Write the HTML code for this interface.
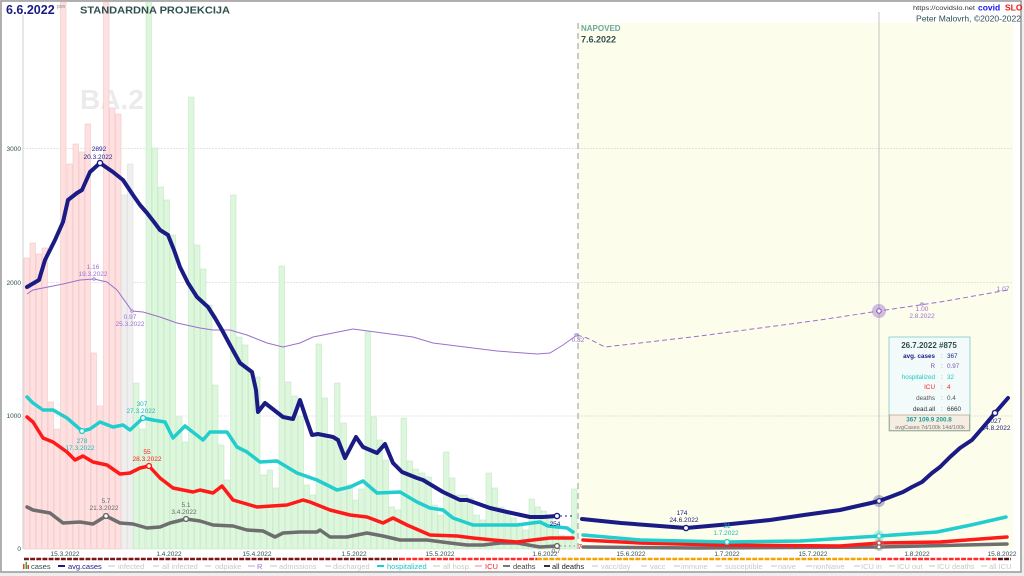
<!DOCTYPE html>
<html><head><meta charset="utf-8"><style>
html,body{margin:0;padding:0;background:#fff;}
svg{display:block;font-family:"Liberation Sans",sans-serif;}
</style></head><body>
<svg width="1024" height="576" viewBox="0 0 1024 576" xmlns="http://www.w3.org/2000/svg">
<rect x="0" y="0" width="1024" height="576" fill="#eeeeee"/>
<rect x="1" y="1" width="1020" height="571" fill="#ffffff" stroke="#999" stroke-width="1.5"/>
<!-- forecast bg -->
<rect x="578" y="23" width="435" height="526" fill="#fdfdec"/>
<!-- grid -->
<g stroke="#dcdcdc" stroke-width="0.8" stroke-dasharray="2,1">
<line x1="23" y1="148.5" x2="1013" y2="148.5"/>
<line x1="23" y1="282.5" x2="1013" y2="282.5"/>
<line x1="23" y1="416" x2="1013" y2="416"/>
</g>
<line x1="23" y1="15" x2="23" y2="549" stroke="#cfcfcf" stroke-width="1"/>
<!-- BA.2 -->
<text x="80" y="109" font-size="28" font-weight="bold" fill="#ebebeb">BA.2</text>
<!-- bars -->
<g fill="#ffe0e0" stroke="#f2c6c6" stroke-width="0.6">
<rect x="24" y="258" width="5.5" height="291"/>
<rect x="30" y="243" width="5.5" height="306"/>
<rect x="36" y="254" width="5.5" height="295"/>
<rect x="42" y="248" width="5.5" height="301"/>
<rect x="48" y="402" width="5.5" height="147"/>
<rect x="54" y="429" width="5.5" height="120"/>
<rect x="60.5" y="2" width="5.5" height="547"/>
<rect x="67" y="164" width="5.5" height="385"/>
<rect x="73" y="144" width="5.5" height="405"/>
<rect x="79" y="152" width="5.5" height="397"/>
<rect x="85" y="124" width="5.5" height="425"/>
<rect x="91" y="353" width="5.5" height="196"/>
<rect x="97" y="406" width="5.5" height="143"/>
<rect x="103.5" y="2" width="5.5" height="547"/>
<rect x="109.5" y="108" width="5.5" height="441"/>
<rect x="115.5" y="114" width="5.5" height="435"/>
</g>
<g fill="#efefef" stroke="#dedede" stroke-width="0.6">
<rect x="121.5" y="195" width="5.5" height="354"/>
<rect x="127.5" y="164" width="5.5" height="385"/>
</g>
<g fill="#ddf7dd" stroke="#c6e6c6" stroke-width="0.6">
<rect x="133.5" y="383" width="5.5" height="166"/>
<rect x="139.5" y="429" width="5.5" height="120"/>
<rect x="146" y="2" width="5.5" height="547"/>
<rect x="152" y="148" width="5.5" height="401"/>
<rect x="158" y="187" width="5.5" height="362"/>
<rect x="164" y="200" width="5.5" height="349"/>
<rect x="170" y="235" width="5.5" height="314"/>
<rect x="176.5" y="417" width="5.5" height="132"/>
<rect x="182.5" y="442" width="5.5" height="107"/>
<rect x="188.5" y="97" width="5.5" height="452"/>
<rect x="194.5" y="245" width="5.5" height="304"/>
<rect x="200.5" y="269" width="5.5" height="280"/>
<rect x="206.5" y="305" width="5.5" height="244"/>
<rect x="212.5" y="385" width="5.5" height="164"/>
<rect x="218.5" y="445" width="5.5" height="104"/>
<rect x="224.5" y="480" width="5.5" height="69"/>
<rect x="230.5" y="195" width="5.5" height="354"/>
<rect x="236.5" y="337" width="5.5" height="212"/>
<rect x="242.5" y="345" width="5.5" height="204"/>
<rect x="248.5" y="372" width="5.5" height="177"/>
<rect x="254.5" y="377" width="5.5" height="172"/>
<rect x="261" y="475" width="5.5" height="74"/>
<rect x="267" y="470" width="5.5" height="79"/>
<rect x="273" y="488" width="5.5" height="61"/>
<rect x="279" y="266" width="5.5" height="283"/>
<rect x="285.5" y="382" width="5.5" height="167"/>
<rect x="292" y="396" width="5.5" height="153"/>
<rect x="298" y="416" width="5.5" height="133"/>
<rect x="304" y="485" width="5.5" height="64"/>
<rect x="310" y="495" width="5.5" height="54"/>
<rect x="316" y="344" width="5.5" height="205"/>
<rect x="322" y="398" width="5.5" height="151"/>
<rect x="328" y="440" width="5.5" height="109"/>
<rect x="334.5" y="383" width="5.5" height="166"/>
<rect x="341" y="423" width="5.5" height="126"/>
<rect x="347" y="485" width="5.5" height="64"/>
<rect x="353" y="500" width="5.5" height="49"/>
<rect x="358.5" y="489" width="5.5" height="60"/>
<rect x="365" y="332" width="5.5" height="217"/>
<rect x="371" y="417" width="5.5" height="132"/>
<rect x="377" y="440" width="5.5" height="109"/>
<rect x="383" y="460" width="5.5" height="89"/>
<rect x="389" y="507" width="5.5" height="42"/>
<rect x="395" y="510" width="5.5" height="39"/>
<rect x="401" y="418" width="5.5" height="131"/>
<rect x="407" y="461" width="5.5" height="88"/>
<rect x="413" y="469" width="5.5" height="80"/>
<rect x="419.5" y="473" width="5.5" height="76"/>
<rect x="426" y="477" width="5.5" height="72"/>
<rect x="432" y="505" width="5.5" height="44"/>
<rect x="438" y="515" width="5.5" height="34"/>
<rect x="443.5" y="452" width="5.5" height="97"/>
<rect x="449.5" y="478" width="5.5" height="71"/>
<rect x="455.5" y="495" width="5.5" height="54"/>
<rect x="462" y="495" width="5.5" height="54"/>
<rect x="467.5" y="498" width="5.5" height="51"/>
<rect x="474" y="515" width="5.5" height="34"/>
<rect x="480" y="520" width="5.5" height="29"/>
<rect x="486" y="473" width="5.5" height="76"/>
<rect x="492" y="488" width="5.5" height="61"/>
<rect x="498.5" y="507" width="5.5" height="42"/>
<rect x="505" y="512" width="5.5" height="37"/>
<rect x="511" y="518" width="5.5" height="31"/>
<rect x="517" y="525" width="5.5" height="24"/>
<rect x="523" y="530" width="5.5" height="19"/>
<rect x="529" y="499" width="5.5" height="50"/>
<rect x="535" y="507" width="5.5" height="42"/>
<rect x="541" y="511" width="5.5" height="38"/>
<rect x="547" y="515" width="5.5" height="34"/>
<rect x="553" y="525" width="5.5" height="24"/>
<rect x="559" y="535" width="5.5" height="14"/>
<rect x="565" y="540" width="5.5" height="9"/>
<rect x="571.5" y="489" width="5.5" height="60"/>
</g>
<!-- vertical lines -->
<line x1="578" y1="23" x2="578" y2="549" stroke="#b0b0b0" stroke-width="1.3" stroke-dasharray="6,4"/>
<line x1="879" y1="12" x2="879" y2="549" stroke="#b5b5b5" stroke-width="0.8"/>
<!-- R -->
<polyline fill="none" stroke="#9b6fcf" stroke-width="1" points="27,294 33,290 63,284 80,280 94,279 107,282 117,290 132,311 143,312 160,317 177,323 200,328 213,330 230,330 247,335 267,343 283,347 300,343 313,337 353,329 413,337 433,343 497,351 537,354 550,353 563,345 577,335"/>
<polyline fill="none" stroke="#9b6fcf" stroke-width="1" stroke-dasharray="5,3" points="577,335 587,338 605,347 640,343 700,336 760,328 820,320 879,311 940,302 1008,290"/>
<!-- deaths -->
<g fill="none" stroke-linejoin="round" stroke-linecap="round">
<polyline stroke="#6e6e6e" stroke-width="3.5" points="27,507 33,510 50,513 63,523 80,522 93,524 106,516 120,523 133,524 147,528 160,527 170,523 186,519 200,521 213,525 233,526 247,530 263,531 275,537 283,533 300,532 317,532 320,530 330,537 347,537 367,533 383,536 400,540 427,540 450,543 467,545 483,545 500,543 517,543 540,547 557,546"/>
<polyline stroke="#6e6e6e" stroke-width="3.5" points="583,547 700,548 879,547 1007,544"/>
<!-- ICU -->
<polyline stroke="#ff1a1a" stroke-width="3.5" points="27,417 33,422 43,438 53,442 67,452 75,460 83,456 93,462 107,465 120,474 130,473 140,468 149,466 160,478 173,488 183,490 193,492 200,490 213,493 222,486 233,500 257,507 287,505 303,500 310,502 330,510 350,515 367,517 383,523 393,518 407,525 430,535 457,536 473,538 493,540 517,542 533,540 550,538 573,538"/>
<polyline stroke="#ff1a1a" stroke-width="3.5" points="583,540 640,543 720,545 840,546 880,543 940,542 1007,537"/>
<!-- hospitalized -->
<polyline stroke="#22cdcd" stroke-width="3.5" points="27,397 33,403 43,410 53,410 67,418 82,431 90,429 100,422 113,427 123,425 130,430 143,418 153,420 165,422 173,438 185,426 203,440 210,432 227,432 237,447 247,452 260,462 277,461 297,473 317,480 337,490 350,487 363,481 377,493 400,492 417,502 430,508 443,510 453,518 473,525 497,525 517,525 540,522 548,526 567,528 573,532"/>
<polyline stroke="#22cdcd" stroke-width="3.5" points="583,535 640,540 727,542 800,541 879,536 937,532 971,525 1006,517"/>
<!-- avg cases -->
<polyline stroke="#1b1b85" stroke-width="4" points="27,287 39,280 45,260 55,240 63,222 68,200 77,193 82,190 90,172 100,163 113,172 123,180 133,195 140,205 147,213 154,222 160,230 168,235 174,250 180,267 188,283 197,297 208,307 215,318 222,330 230,345 240,363 252,372 256,390 258,412 265,403 274,410 283,417 293,419 300,400 306,418 312,435 318,434 333,437 338,440 345,458 356,437 363,447 377,453 385,444 393,463 402,472 417,478 423,480 443,492 460,500 467,500 473,502 490,508 507,512 530,517 543,517 557,516"/>
<polyline stroke="#1b1b85" stroke-width="4" points="582,519 621,523 686,528 731,524 770,520 804,515 840,510 871,503 879,501 890,497 903,492 912,487 922,482 932,473 940,467 950,457 960,448 972,440 985,425 995,413 1008,398"/>
</g>
<line x1="560" y1="516" x2="572" y2="516" stroke="#1b1b85" stroke-width="1" stroke-dasharray="2,3"/>
<line x1="560" y1="546" x2="575" y2="546" stroke="#888" stroke-width="1" stroke-dasharray="1.5,3"/>
<!-- big markers at 26.7 -->
<circle cx="879" cy="311" r="7" fill="#9b6fcf" fill-opacity="0.45"/>
<circle cx="879" cy="311" r="2.2" fill="#fff" stroke="#7d4fb5" stroke-width="1"/>
<circle cx="879" cy="501" r="6" fill="#1b1b85" fill-opacity="0.3"/>
<circle cx="879" cy="501" r="2.3" fill="#fff" stroke="#1b1b85" stroke-width="1.2"/>
<circle cx="879" cy="536" r="5.5" fill="#22cdcd" fill-opacity="0.3"/>
<circle cx="879" cy="536" r="2.2" fill="#fff" stroke="#22cdcd" stroke-width="1.2"/>
<circle cx="879" cy="545" r="6" fill="#888" fill-opacity="0.35"/>
<circle cx="879" cy="543" r="2" fill="#fff" stroke="#ff1a1a" stroke-width="1"/>
<circle cx="879" cy="547" r="2" fill="#fff" stroke="#666" stroke-width="1"/>
<!-- small markers -->
<g fill="#fff" stroke-width="1.4">
<circle cx="100" cy="163" r="2.6" stroke="#1b1b85"/>
<circle cx="557" cy="516" r="2.6" stroke="#1b1b85"/>
<circle cx="686" cy="528" r="2.6" stroke="#1b1b85"/>
<circle cx="995" cy="413" r="2.6" stroke="#1b1b85"/>
<circle cx="82" cy="431" r="2.4" stroke="#22cdcd"/>
<circle cx="143" cy="418" r="2.4" stroke="#22cdcd"/>
<circle cx="727" cy="542" r="2.4" stroke="#22cdcd"/>
<circle cx="149" cy="466" r="2.4" stroke="#ff1a1a"/>
<circle cx="106" cy="516" r="2.4" stroke="#666"/>
<circle cx="186" cy="519" r="2.4" stroke="#666"/>
<circle cx="557" cy="546" r="2.4" stroke="#666"/>
<circle cx="94" cy="279" r="1.2" stroke="#9b6fcf" stroke-width="0.8"/>
<circle cx="132" cy="311" r="1.2" stroke="#9b6fcf" stroke-width="0.8"/>
<circle cx="576" cy="335" r="1.2" stroke="#9b6fcf" stroke-width="0.8"/>
<circle cx="922" cy="304" r="1.2" stroke="#9b6fcf" stroke-width="0.8"/>
</g>
<!-- annotations -->
<g font-size="6.5" text-anchor="middle">
<text x="99" y="151" fill="#1b1b85">2892</text>
<text x="98" y="159" fill="#1b1b85">20.3.2022</text>
<text x="93" y="269" fill="#9b6fcf">1.16</text>
<text x="93" y="276" fill="#9b6fcf">19.3.2022</text>
<text x="130" y="319" fill="#9b6fcf">0.97</text>
<text x="130" y="326" fill="#9b6fcf">25.3.2022</text>
<text x="82" y="443" fill="#1cbaba">278</text>
<text x="80" y="450" fill="#1cbaba">17.3.2022</text>
<text x="142" y="406" fill="#1cbaba">307</text>
<text x="141" y="413" fill="#1cbaba">27.3.2022</text>
<text x="147" y="454" fill="#ff1a1a">55</text>
<text x="147" y="461" fill="#ff1a1a">28.3.2022</text>
<text x="106" y="503" fill="#666">5.7</text>
<text x="104" y="510" fill="#666">21.3.2022</text>
<text x="186" y="507" fill="#666">5.1</text>
<text x="184" y="514" fill="#666">3.4.2022</text>
<text x="555" y="526" fill="#1b1b85">254</text>
<text x="578" y="342" fill="#9b6fcf">0.82</text>
<text x="682" y="515" fill="#1b1b85">174</text>
<text x="684" y="522" fill="#1b1b85">24.6.2022</text>
<text x="727" y="528" fill="#1cbaba">21</text>
<text x="726" y="535" fill="#1cbaba">1.7.2022</text>
<text x="922" y="311" fill="#9b6fcf">1.00</text>
<text x="922" y="318" fill="#9b6fcf">2.8.2022</text>
<text x="1003" y="291" fill="#9b6fcf">1.07</text>
<text x="994" y="423" fill="#1b1b85">1027</text>
<text x="996" y="430" fill="#1b1b85">14.8.2022</text>
<text x="580" y="549" fill="#ff1a1a" font-size="7.5">7</text>
</g>
<!-- y labels -->
<g font-size="6.5" fill="#2f4f4f" text-anchor="end">
<text x="21" y="151">3000</text>
<text x="21" y="285">2000</text>
<text x="21" y="418">1000</text>
<text x="21" y="551">0</text>
</g>
<!-- x labels -->
<g font-size="6.5" fill="#2f4f4f" text-anchor="middle">
<text x="65" y="556">15.3.2022</text>
<text x="169" y="556">1.4.2022</text>
<text x="257" y="556">15.4.2022</text>
<text x="354" y="556">1.5.2022</text>
<text x="440" y="556">15.5.2022</text>
<text x="545" y="556">1.6.2022</text>
<text x="556" y="553" fill="#666">0.7</text>
<text x="631" y="556">15.6.2022</text>
<text x="727" y="556">1.7.2022</text>
<text x="813" y="556">15.7.2022</text>
<text x="917" y="556">1.8.2022</text>
<text x="1002" y="556">15.8.2022</text>
</g>
<!-- bottom band -->
<g stroke-width="2.6" stroke-dasharray="4.9,1.25">
<line x1="24" y1="559" x2="400" y2="559" stroke="#7a1414"/>
<line x1="400" y1="559" x2="537" y2="559" stroke="#ff2a2a"/>
<line x1="537" y1="559" x2="875" y2="559" stroke="#f5a300"/>
<line x1="875" y1="559" x2="998" y2="559" stroke="#ff2a2a"/>
<line x1="998" y1="559" x2="1011" y2="559" stroke="#5a1010"/>
</g>
<!-- legend -->
<g font-size="7.5">
<rect x="23" y="564" width="1.5" height="5" fill="#e33"/>
<rect x="25.5" y="562" width="1.5" height="7" fill="#3a3"/>
<rect x="27.5" y="565" width="1.5" height="4" fill="#e33"/>
<text x="31" y="569" fill="#2f4f4f">cases</text>
<line x1="58" y1="566" x2="65" y2="566" stroke="#1b1b85" stroke-width="2"/>
<text x="68" y="569" fill="#1b1b85">avg.cases</text>
<g stroke="#d8d8d8" stroke-width="1.5">
<line x1="108" y1="566" x2="115" y2="566"/>
<line x1="153" y1="566" x2="159" y2="566"/>
<line x1="205" y1="566" x2="211" y2="566"/>
<line x1="270" y1="566" x2="277" y2="566"/>
<line x1="325" y1="566" x2="331" y2="566"/>
<line x1="433" y1="566" x2="440" y2="566"/>
<line x1="592" y1="566" x2="598" y2="566"/>
<line x1="641" y1="566" x2="647" y2="566"/>
<line x1="674" y1="566" x2="680" y2="566"/>
<line x1="716" y1="566" x2="722" y2="566"/>
<line x1="771" y1="566" x2="777" y2="566"/>
<line x1="806" y1="566" x2="812" y2="566"/>
<line x1="854" y1="566" x2="860" y2="566"/>
<line x1="889" y1="566" x2="895" y2="566"/>
<line x1="929" y1="566" x2="935" y2="566"/>
<line x1="981" y1="566" x2="987" y2="566"/>
</g>
<g fill="#c8c8c8">
<text x="118" y="569">infected</text>
<text x="162" y="569">all infected</text>
<text x="215" y="569">odpiake</text>
<text x="279" y="569">admissions</text>
<text x="333" y="569">discharged</text>
<text x="443" y="569">all hosp.</text>
<text x="601" y="569">vacc/day</text>
<text x="650" y="569">vacc</text>
<text x="681" y="569">immune</text>
<text x="725" y="569">susceptible</text>
<text x="778" y="569">naive</text>
<text x="813" y="569">nonNaive</text>
<text x="861" y="569">ICU in</text>
<text x="897" y="569">ICU out</text>
<text x="937" y="569">ICU deaths</text>
<text x="989" y="569">all ICU</text>
</g>
<line x1="248" y1="566" x2="255" y2="566" stroke="#d4bff0" stroke-width="1.5"/>
<text x="257" y="569" fill="#9b6fcf">R</text>
<line x1="377" y1="566" x2="384" y2="566" stroke="#22cdcd" stroke-width="2"/>
<text x="387" y="569" fill="#1cc4c4">hospitalized</text>
<line x1="475" y1="566" x2="482" y2="566" stroke="#ffaaaa" stroke-width="1.5"/>
<text x="485" y="569" fill="#ff1a1a">ICU</text>
<line x1="503" y1="566" x2="510" y2="566" stroke="#777" stroke-width="2"/>
<text x="513" y="569" fill="#444">deaths</text>
<line x1="544" y1="566" x2="550" y2="566" stroke="#333" stroke-width="2"/>
<text x="552" y="569" fill="#222">all deaths</text>
</g>
<!-- tooltip -->
<rect x="889" y="337" width="81" height="94" fill="#f3fbfa" stroke="#7cc8c8" stroke-width="0.8"/>
<rect x="889.5" y="415" width="80" height="15.5" fill="#f6ede2" stroke="#b08c6a" stroke-width="0.6"/>
<g font-size="6.3">
<text x="929" y="348" font-size="8" font-weight="bold" fill="#2f4f4f" text-anchor="middle">26.7.2022 #875</text>
<g text-anchor="end">
<text x="935" y="358" fill="#1b1b85" font-weight="bold">avg. cases</text>
<text x="935" y="368" fill="#7d4fb5">R</text>
<text x="935" y="379" fill="#1cc4c4">hospitalized</text>
<text x="935" y="389" fill="#ff1a1a">ICU</text>
<text x="935" y="400" fill="#555">deaths</text>
<text x="935" y="411" fill="#333">dead.all</text>
</g>
<g fill="#888"><text x="941" y="358">:</text><text x="941" y="368">:</text><text x="941" y="379">:</text><text x="941" y="389">:</text><text x="941" y="400">:</text><text x="941" y="411">:</text></g>
<text x="947" y="358" fill="#1b1b85">367</text>
<text x="947" y="368" fill="#7d4fb5">0.97</text>
<text x="947" y="379" fill="#1cc4c4">32</text>
<text x="947" y="389" fill="#ff1a1a">4</text>
<text x="947" y="400" fill="#555">0.4</text>
<text x="947" y="411" fill="#333">6660</text>
<text x="929" y="421.5" fill="#1a9a9a" font-weight="bold" text-anchor="middle">367  109.9  200.8</text>
<text x="930" y="429" fill="#777" font-size="5.5" text-anchor="middle">avgCases 7d/100k 14d/100k</text>
</g>
<!-- header -->
<text x="6" y="14" font-size="12.5" font-weight="bold" fill="#1b1b85">6.6.2022</text>
<text x="57" y="8" font-size="5" fill="#888">pon</text>
<text x="80" y="13.5" font-size="10" font-weight="bold" fill="#2f4f4f" textLength="150" lengthAdjust="spacingAndGlyphs">STANDARDNA PROJEKCIJA</text>
<text x="913" y="10" font-size="6" fill="#333" textLength="62" lengthAdjust="spacingAndGlyphs">https://covidslo.net</text>
<text x="978" y="10.5" font-size="8.5" font-weight="bold" fill="#1515ee">covid</text>
<text x="1005" y="10.5" font-size="8.5" font-weight="bold" fill="#ee1515">SLO</text>
<text x="916" y="21.5" font-size="8.5" fill="#2f4f4f" textLength="105" lengthAdjust="spacingAndGlyphs">Peter Malovrh, ©2020-2022</text>
<text x="581" y="31" font-size="8" font-weight="bold" fill="#6aa8aa">NAPOVED</text>
<text x="581" y="42.5" font-size="9" font-weight="bold" fill="#2f4f4f">7.6.2022</text>
</svg>
</body></html>
